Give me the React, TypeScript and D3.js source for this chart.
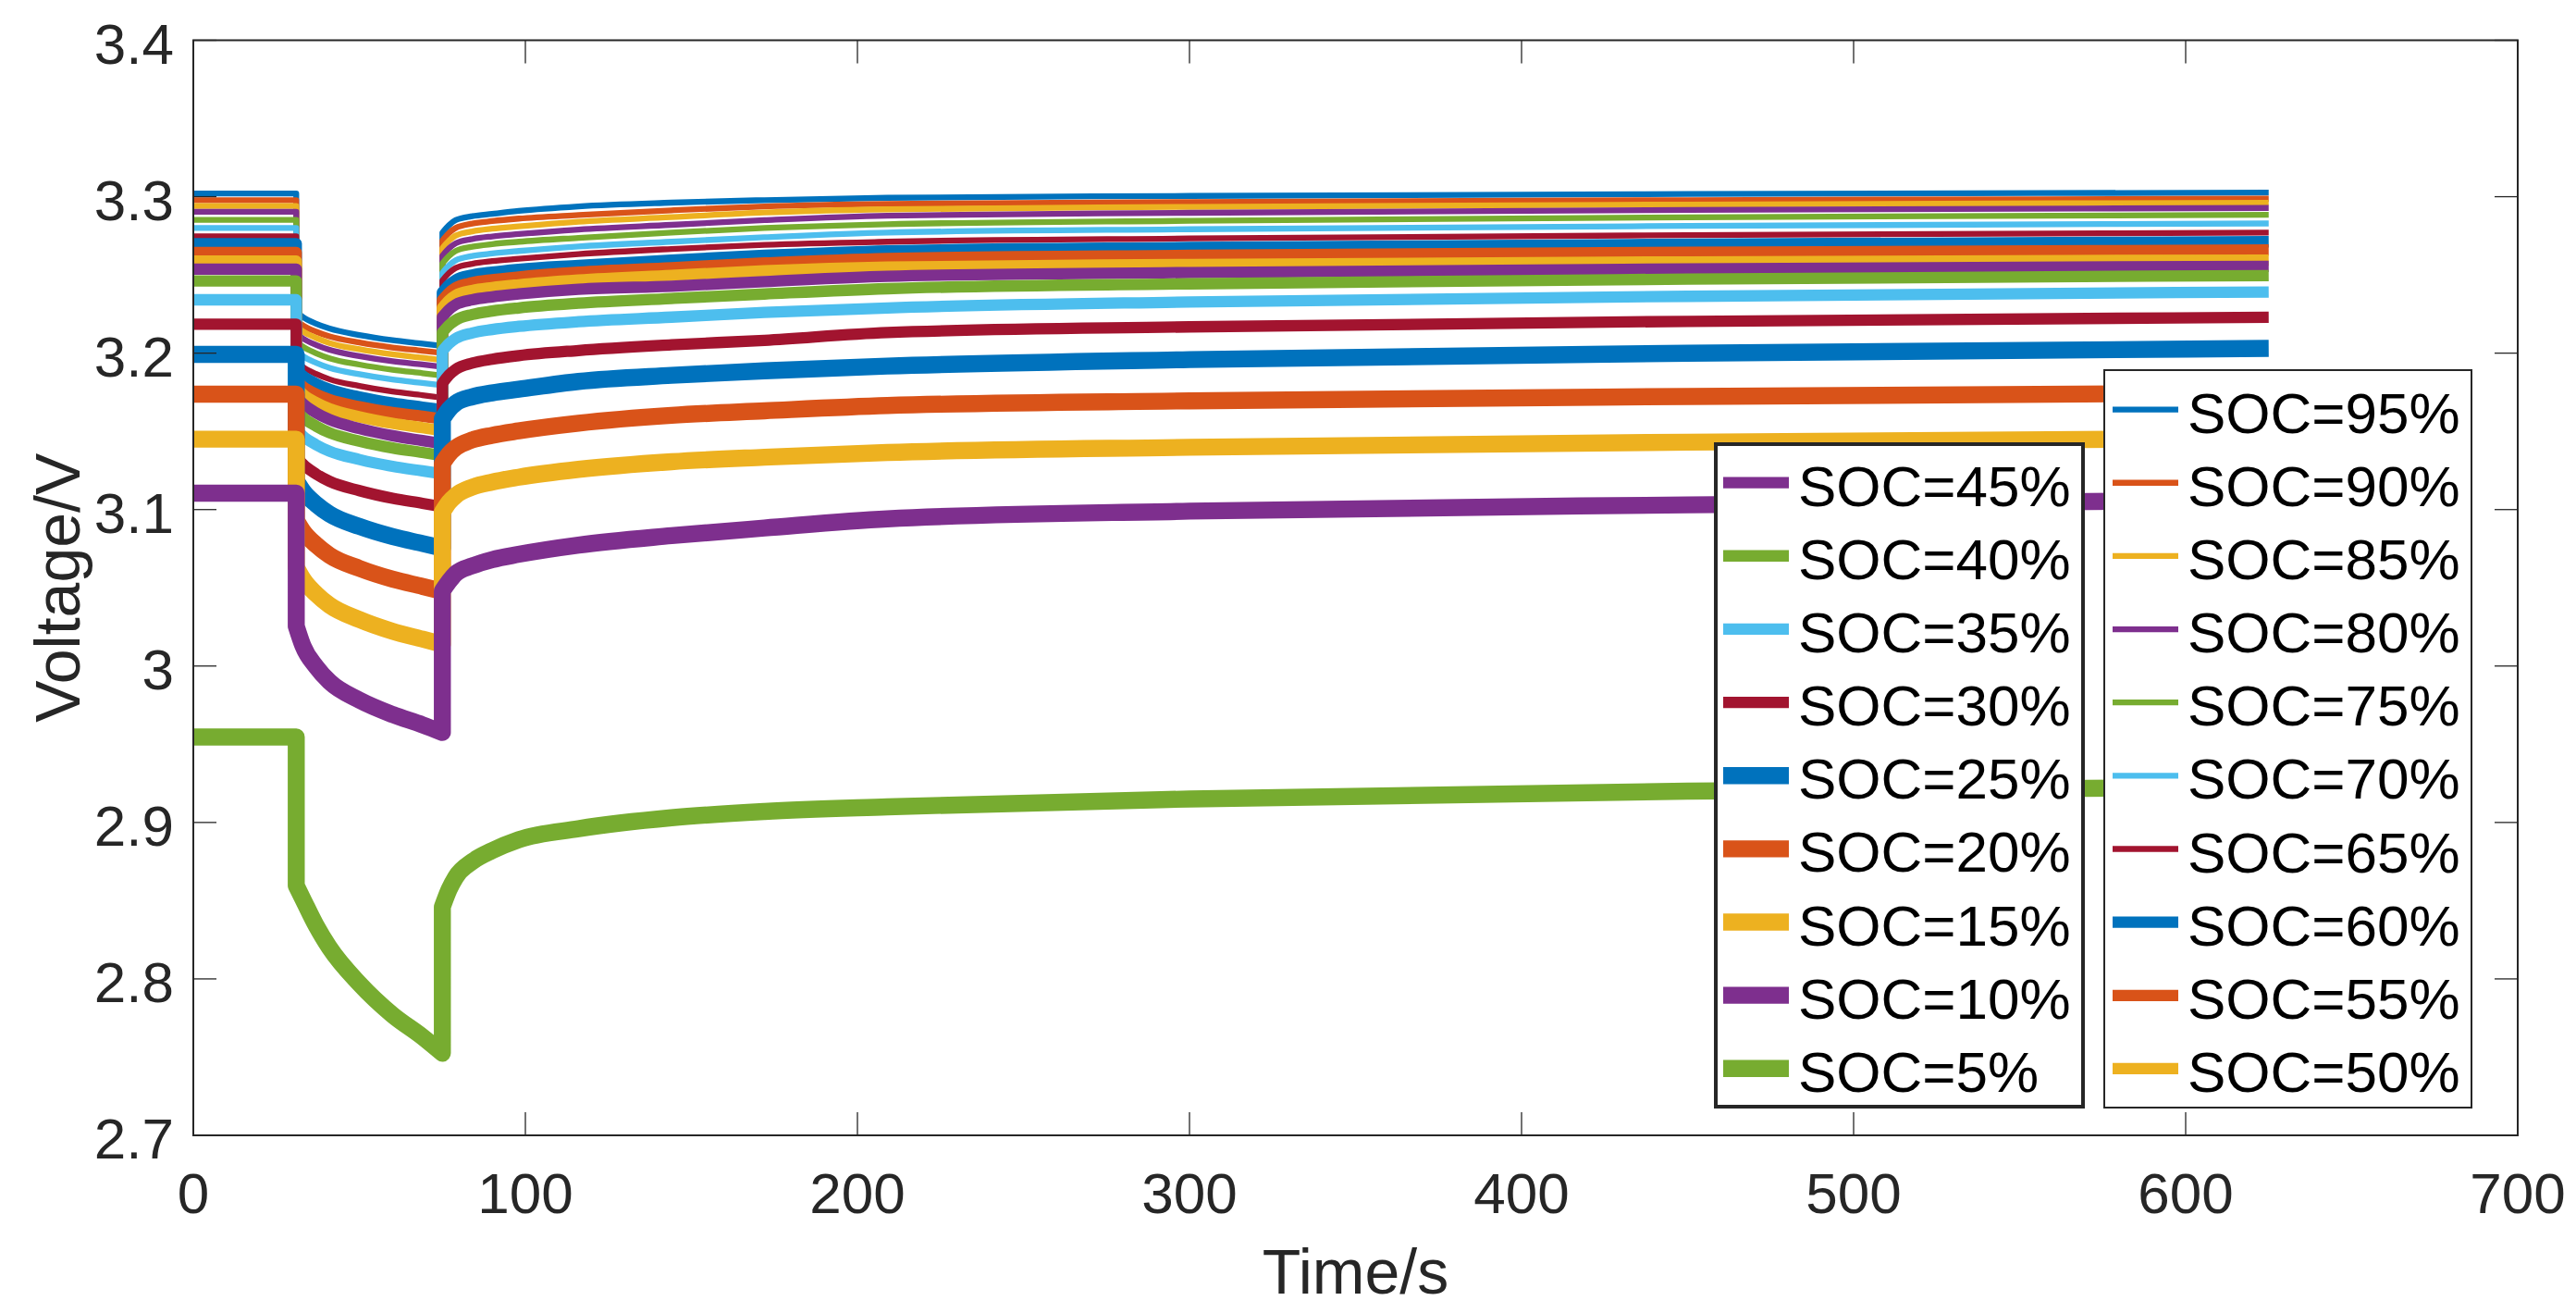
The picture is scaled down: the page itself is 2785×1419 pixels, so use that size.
import React from "react";
import * as d3 from "d3";

// ---------- data ----------
const TIMES = [0, 31, 31, 33, 37, 41, 50, 60, 69, 75, 75, 77, 79, 84, 90, 98, 116, 144, 172, 209, 300, 450, 625];

const V95 = [3.3020, 3.3020, 3.2264, 3.2231, 3.2188, 3.2157, 3.2116, 3.2083, 3.2061, 3.2046, 3.2770, 3.2818, 3.2850, 3.2875, 3.2890, 3.2909, 3.2938, 3.2962, 3.2978, 3.2993, 3.3005, 3.3017, 3.3026];
const V90 = [3.2978, 3.2978, 3.2210, 3.2178, 3.2137, 3.2107, 3.2068, 3.2036, 3.2015, 3.2001, 3.2720, 3.2768, 3.2800, 3.2828, 3.2844, 3.2860, 3.2883, 3.2913, 3.2938, 3.2954, 3.2966, 3.2978, 3.2987];
const V85 = [3.2940, 3.2940, 3.2172, 3.2139, 3.2097, 3.2065, 3.2025, 3.1992, 3.1970, 3.1955, 3.2671, 3.2719, 3.2751, 3.2778, 3.2795, 3.2810, 3.2840, 3.2869, 3.2899, 3.2919, 3.2935, 3.2950, 3.2961];
const V80 = [3.2903, 3.2903, 3.2127, 3.2094, 3.2052, 3.2021, 3.1981, 3.1948, 3.1927, 3.1912, 3.2622, 3.2670, 3.2702, 3.2729, 3.2746, 3.2761, 3.2790, 3.2820, 3.2850, 3.2879, 3.2897, 3.2915, 3.2928];
const V75 = [3.2852, 3.2852, 3.2074, 3.2041, 3.1999, 3.1967, 3.1927, 3.1894, 3.1872, 3.1857, 3.2573, 3.2621, 3.2653, 3.2680, 3.2697, 3.2712, 3.2737, 3.2771, 3.2800, 3.2824, 3.2846, 3.2868, 3.2884];
const V70 = [3.2800, 3.2800, 3.2015, 3.1981, 3.1938, 3.1906, 3.1865, 3.1831, 3.1809, 3.1794, 3.2513, 3.2561, 3.2593, 3.2621, 3.2637, 3.2653, 3.2682, 3.2712, 3.2741, 3.2771, 3.2792, 3.2813, 3.2829];
const V65 = [3.2746, 3.2746, 3.1947, 3.1912, 3.1867, 3.1833, 3.1790, 3.1754, 3.1731, 3.1715, 3.2464, 3.2512, 3.2544, 3.2571, 3.2588, 3.2603, 3.2633, 3.2666, 3.2692, 3.2712, 3.2733, 3.2754, 3.2770];
const V60 = [3.2700, 3.2700, 3.1894, 3.1855, 3.1805, 3.1768, 3.1720, 3.1681, 3.1655, 3.1638, 3.2387, 3.2435, 3.2467, 3.2499, 3.2518, 3.2536, 3.2561, 3.2595, 3.2625, 3.2654, 3.2675, 3.2696, 3.2712];
const V55 = [3.2643, 3.2643, 3.1823, 3.1786, 3.1738, 3.1703, 3.1658, 3.1620, 3.1596, 3.1579, 3.2338, 3.2386, 3.2418, 3.2450, 3.2469, 3.2487, 3.2517, 3.2546, 3.2576, 3.2605, 3.2625, 3.2644, 3.2659];
const V50 = [3.2588, 3.2588, 3.1779, 3.1737, 3.1683, 3.1644, 3.1593, 3.1551, 3.1523, 3.1504, 3.2289, 3.2337, 3.2369, 3.2400, 3.2419, 3.2437, 3.2467, 3.2497, 3.2526, 3.2550, 3.2567, 3.2583, 3.2595];
const V45 = [3.2537, 3.2537, 3.1723, 3.1677, 3.1618, 3.1575, 3.1518, 3.1472, 3.1441, 3.1421, 3.2230, 3.2278, 3.2310, 3.2341, 3.2360, 3.2378, 3.2408, 3.2428, 3.2457, 3.2491, 3.2515, 3.2538, 3.2555];
const V40 = [3.2462, 3.2462, 3.1633, 3.1589, 3.1533, 3.1491, 3.1438, 3.1394, 3.1365, 3.1345, 3.2131, 3.2179, 3.2211, 3.2247, 3.2269, 3.2289, 3.2319, 3.2349, 3.2378, 3.2412, 3.2443, 3.2473, 3.2496];
const V35 = [3.2341, 3.2341, 3.1514, 3.1470, 3.1414, 3.1373, 3.1320, 3.1276, 3.1247, 3.1228, 3.2013, 3.2061, 3.2093, 3.2129, 3.2151, 3.2171, 3.2201, 3.2230, 3.2260, 3.2289, 3.2327, 3.2363, 3.2391];
const V30 = [3.2185, 3.2185, 3.1339, 3.1290, 3.1227, 3.1181, 3.1121, 3.1072, 3.1040, 3.1018, 3.1806, 3.1860, 3.1896, 3.1936, 3.1961, 3.1984, 3.2017, 3.2053, 3.2082, 3.2132, 3.2168, 3.2203, 3.2229];
const V25 = [3.1992, 3.1992, 3.1184, 3.1118, 3.1034, 3.0972, 3.0892, 3.0827, 3.0783, 3.0754, 3.1580, 3.1640, 3.1680, 3.1721, 3.1746, 3.1769, 3.1819, 3.1858, 3.1887, 3.1917, 3.1959, 3.1999, 3.2030];
const V20 = [3.1738, 3.1738, 3.0931, 3.0862, 3.0774, 3.0708, 3.0624, 3.0555, 3.0509, 3.0478, 3.1295, 3.1355, 3.1395, 3.1445, 3.1475, 3.1503, 3.1552, 3.1602, 3.1631, 3.1665, 3.1695, 3.1723, 3.1745];
const V15 = [3.1450, 3.1450, 3.0631, 3.0556, 3.0460, 3.0389, 3.0297, 3.0222, 3.0172, 3.0139, 3.0984, 3.1047, 3.1089, 3.1143, 3.1176, 3.1207, 3.1257, 3.1306, 3.1335, 3.1365, 3.1398, 3.1431, 3.1455];
const V10 = [3.1105, 3.1105, 3.0255, 3.0130, 2.9995, 2.9900, 2.9782, 2.9690, 2.9624, 2.9575, 3.0480, 3.0540, 3.0590, 3.0640, 3.0680, 3.0714, 3.0773, 3.0833, 3.0882, 3.0941, 3.0990, 3.1030, 3.1060];
const V5 = [2.9546, 2.9546, 2.8596, 2.8510, 2.8340, 2.8200, 2.7970, 2.7770, 2.7630, 2.7525, 2.8460, 2.8570, 2.8650, 2.8750, 2.8820, 2.8890, 2.8960, 2.9030, 2.9070, 2.9100, 2.9150, 2.9200, 2.9225];

const SOC_LEVELS = [95, 90, 85, 80, 75, 70, 65, 60, 55, 50, 45, 40, 35, 30, 25, 20, 15, 10, 5];
const SERIES_VALUES = [V95, V90, V85, V80, V75, V70, V65, V60, V55, V50, V45, V40, V35, V30, V25, V20, V15, V10, V5];

const LEGEND_LEFT = [45, 40, 35, 30, 25, 20, 15, 10, 5];
const LEGEND_RIGHT = [95, 90, 85, 80, 75, 70, 65, 60, 55, 50];

const X_TICKS = [0, 100, 200, 300, 400, 500, 600, 700];
const Y_TICKS = [2.7, 2.8, 2.9, 3.0, 3.1, 3.2, 3.3, 3.4];

const PALETTE = ["#0072BD", "#D95319", "#EDB120", "#7E2F8E", "#77AC30", "#4DBEEE", "#A2142F"];

// ---------- layout ----------
const W = 2785;
const H = 1419;
const PL = 209, PR = 2722, PT = 43.5, PB = 1227;
const FONT = "'Liberation Sans', Arial, Helvetica, sans-serif";
const AX = "#262626";

const x = d3.scaleLinear().domain([0, 700]).range([PL, PR]);
const y = d3.scaleLinear().domain([2.7, 3.4]).range([PB, PT]);

const widthFor = (soc: number) => (soc >= 65 ? 6.3 : soc >= 30 ? 12.3 : 18.4);
const colorFor = (soc: number) => PALETTE[SOC_LEVELS.indexOf(soc) % PALETTE.length];

const mono = d3.line<[number, number]>().curve(d3.curveMonotoneX);

function buildPath(vals: number[]): string {
  const pts: [number, number][] = TIMES.map((t, i) => [x(t), y(vals[i])]);
  const rest = pts.slice(0, 2);
  const dis = pts.slice(2, 10);
  const rel = pts.slice(10);
  const d1 = `M${rest[0][0]},${rest[0][1]}L${rest[1][0]},${rest[1][1]}`;
  const d2 = (mono(dis) || "").replace(/^M/, "L");
  const d3s = (mono(rel) || "").replace(/^M/, "L");
  return d1 + d2 + d3s;
}

function Legend({ items, left, top, right, bottom, border }: { items: number[]; left: number; top: number; right: number; bottom: number; border: number }) {
  const step = 79.15;
  const first = top + 43.6;
  return (
    <g>
      <rect x={left + border / 2} y={top + border / 2} width={right - left - border} height={bottom - top - border} fill="#fff" stroke={AX} strokeWidth={border} />
      {items.map((soc, k) => {
        const cy = first + k * step;
        return (
          <g key={soc}>
            <line x1={left + 10} x2={left + 81} y1={cy} y2={cy} stroke={colorFor(soc)} strokeWidth={widthFor(soc)} />
            <text x={left + 91} y={cy + 25} fontFamily={FONT} fontSize={62} fill="#000">{`SOC=${soc}%`}</text>
          </g>
        );
      })}
    </g>
  );
}

export default function App() {
  return (
    <svg width={W} height={H} viewBox={`0 0 ${W} ${H}`} style={{ position: "absolute", left: 0, top: 0, background: "#fff" }}>
      <rect x={0} y={0} width={W} height={H} fill="#fff" />
      <defs>
        <clipPath id="plotclip">
          <rect x={PL} y={PT} width={PR - PL} height={PB - PT} />
        </clipPath>
      </defs>
      <g clipPath="url(#plotclip)">
        {SOC_LEVELS.map((soc, i) => (
          <path key={soc} d={buildPath(SERIES_VALUES[i])} fill="none" stroke={colorFor(soc)} strokeWidth={widthFor(soc)} strokeLinejoin="round" strokeLinecap="butt" />
        ))}
      </g>
      {/* ticks */}
      {X_TICKS.map((t) => (
        <g key={"xt" + t}>
          <line x1={x(t)} x2={x(t)} y1={PB} y2={PB - 25} stroke={AX} strokeWidth={1.3} />
          <line x1={x(t)} x2={x(t)} y1={PT} y2={PT + 25} stroke={AX} strokeWidth={1.3} />
          <text x={x(t)} y={PB + 84} textAnchor="middle" fontFamily={FONT} fontSize={62} fill={AX}>{String(t)}</text>
        </g>
      ))}
      {Y_TICKS.map((v) => (
        <g key={"yt" + v}>
          <line x1={PL} x2={PL + 25} y1={y(v)} y2={y(v)} stroke={AX} strokeWidth={1.3} />
          <line x1={PR} x2={PR - 25} y1={y(v)} y2={y(v)} stroke={AX} strokeWidth={1.3} />
          <text x={188} y={y(v) + 25} textAnchor="end" fontFamily={FONT} fontSize={62} fill={AX}>{d3.format("~g")(v)}</text>
        </g>
      ))}
      <rect x={PL} y={PT} width={PR - PL} height={PB - PT} fill="none" stroke={AX} strokeWidth={2} />
      <text x={(PL + PR) / 2} y={1398} textAnchor="middle" fontFamily={FONT} fontSize={68} fill={AX}>Time/s</text>
      <text transform={`translate(86,${(PT + PB) / 2}) rotate(-90)`} textAnchor="middle" fontFamily={FONT} fontSize={68} fill={AX}>Voltage/V</text>
      <Legend items={LEGEND_LEFT} left={1853} top={478} right={2254} bottom={1198} border={4} />
      <Legend items={LEGEND_RIGHT} left={2274} top={399} right={2673} bottom={1198} border={2} />
    </svg>
  );
}
